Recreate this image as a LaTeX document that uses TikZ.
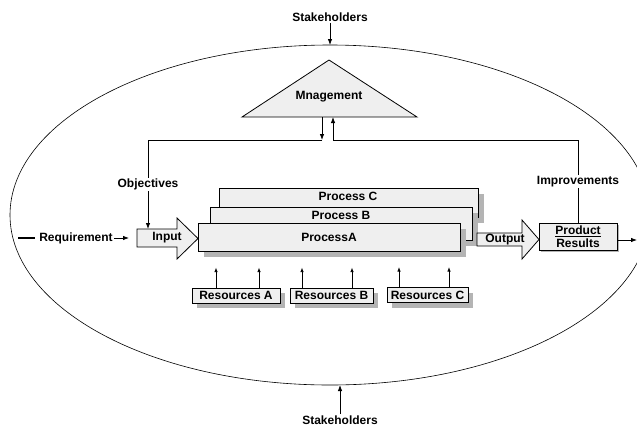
\documentclass[tikz,border=0pt]{standalone}
\usepackage{fontspec}
\setmainfont{Liberation Sans}
\usetikzlibrary{arrows.meta,shadows}
\definecolor{boxfill}{HTML}{EFEFEF}
\definecolor{shade}{HTML}{B4B4B4}
\begin{document}
\begin{tikzpicture}[x=1pt,y=-1pt,
  font=\fontsize{12}{14}\selectfont\bfseries,
  >={Latex[length=6pt,width=4.5pt]},
  line width=0.8pt,
  txt/.style={inner sep=1pt},
  tag/.style={inner sep=1pt, fill=white},
  procbox/.style={draw, fill=boxfill, inner sep=0pt, minimum width=#1,
    drop shadow={shadow xshift=6pt, shadow yshift=-6pt, fill=shade, opacity=1}},
  resbox/.style={draw, fill=boxfill, inner sep=0pt, minimum height=15pt, minimum width=#1,
    drop shadow={shadow xshift=5pt, shadow yshift=-5pt, fill=shade, opacity=1}},
  smallarrow/.style={->, >={Latex[length=4.5pt,width=3.5pt]}},
  bigarrow/.style={draw, fill=boxfill}]

\useasboundingbox (0,0) rectangle (637,429);

% surrounding environment
\draw[line width=0.6pt] (330,215) ellipse [x radius=320pt, y radius=170pt];
\coordinate (eltop) at (330,45);
\coordinate (elbot) at (340,385);
\node[txt] (stakeT) at (330,17) {Stakeholders};
\node[txt] (stakeB) at (340,420) {Stakeholders};
\draw[->] (stakeT.south) -- (eltop);
\draw[->] (stakeB.north) -- (elbot);

% management triangle
\draw[fill=boxfill] (242,117) -- (329,60) -- (417,117) -- cycle;
\node[txt] (mgmt) at (329,97) {Mnagement};
\coordinate (mdown) at (322,117);
\coordinate (mup) at (333,117);
\coordinate (jl) at (322,140);
\coordinate (jr) at (333,140);
\coordinate (cl) at (148,140);
\coordinate (cr) at (578,140);
\draw[->] (mdown) -- (jl);
\draw[->] (jr) -- (mup);

% process stack
\node[procbox=259pt, minimum height=29pt] (pc) at (348.5,202.5) {};
\node[procbox=262pt, minimum height=33pt] (pb) at (341,223.5) {};
\node[procbox=262pt, minimum height=28pt] (pa) at (329,237) {};
\node[txt] (pclbl) at (348,196.5) {Process C};
\node[txt] (pblbl) at (341,215.5) {Process B};
\node[txt] (palbl) at (329,237) {ProcessA};

% input arrow
\draw[bigarrow] (137,229) -- (177,229) -- (177,218) -- (198,238.5) -- (177,259)
  -- (177,247) -- (137,247) -- cycle;
\node[txt] (inlbl) at (167,238) {Input};
\coordinate (intop) at (148,229);
\coordinate (inleft) at (129,238);

% output arrow
\draw[bigarrow] (477,233) -- (522,233) -- (522,220) -- (539,239.5) -- (522,259)
  -- (522,246) -- (477,246) -- cycle;
\node[txt] (outlbl) at (505,239.5) {Output};

% product box
\node[draw, fill=boxfill, inner sep=0pt, minimum width=78pt, minimum height=27pt,
  align=center, drop shadow={shadow xshift=2pt, shadow yshift=-2pt, fill=shade, opacity=1}]
  (prod) at (578,236.5) {\underline{Product}\\[-1pt]Results};
\coordinate (prodout) at (637,240);
\draw[->] (prod.east |- prodout) -- (prodout);

% feedback loops
\draw[->] (jl) -- (cl) -- node[tag] (obj) {Objectives} (intop);
\draw (jr) -- (cr) -- node[tag] (imp) {Improvements} (prod.north);

% requirement
\coordinate (reqstart) at (18,238);
\node[txt] (req) at (76,238) {Requirement};
\draw[line width=1.2pt] (reqstart) -- ([xshift=-3pt]req.west);
\draw[->] (req.east) -- (inleft);

% resources
\node[resbox=88pt] (resA) at (236,295.5) {Resources A};
\node[resbox=83pt] (resB) at (331.5,295.5) {Resources B};
\node[resbox=81pt] (resC) at (427.5,295) {Resources C};
\draw[smallarrow] ([xshift=-20pt]resA.north) -- ++(0,-20);
\draw[smallarrow] ([xshift=23pt]resA.north) -- ++(0,-20);
\draw[smallarrow] ([xshift=-29.5pt]resB.north) -- ++(0,-20);
\draw[smallarrow] ([xshift=20.5pt]resB.north) -- ++(0,-20);
\draw[smallarrow] ([xshift=-28.5pt]resC.north) -- ++(0,-20);
\draw[smallarrow] ([xshift=21.5pt]resC.north) -- ++(0,-20);
\end{tikzpicture}
\end{document}
